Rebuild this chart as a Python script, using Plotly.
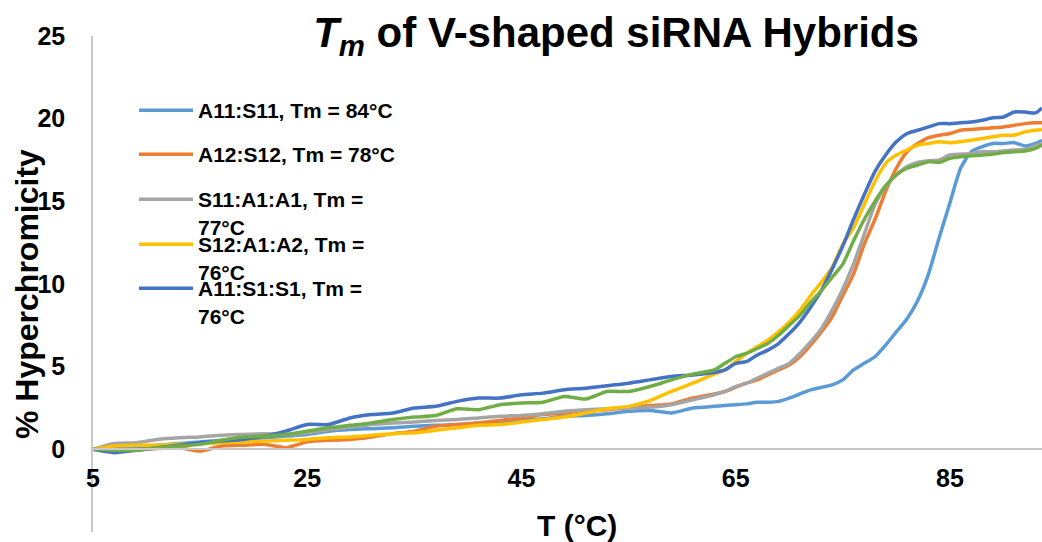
import plotly.graph_objects as go

# Temperature grid (°C)
temps = [5, 7, 9, 11, 13, 15, 17, 19, 21, 23, 25, 27, 29, 31, 33, 35, 37, 39, 41, 43,
         45, 47, 49, 51, 53, 55, 57, 59, 61, 63,
         64, 65, 66, 67, 68, 69, 70, 71, 72, 73, 74, 75, 76, 77, 78, 79, 80, 81, 82, 83,
         84, 85, 86, 87, 88, 89, 90, 91, 92, 93, 93.6]

a11_s11 = [0, 0.05, 0.15, 0.25, 0.35, 0.45, 0.55, 0.6, 0.7, 0.8, 0.9, 1.1, 1.2, 1.25, 1.3, 1.4, 1.45, 1.5, 1.6, 1.65,
           1.75, 1.85, 2.0, 2.05, 2.15, 2.3, 2.35, 2.2, 2.5, 2.6,
           2.65, 2.7, 2.75, 2.85, 2.85, 2.9, 3.1, 3.35, 3.6, 3.75, 3.9, 4.2, 4.8, 5.2, 5.6, 6.3, 7.1, 7.9, 9.0, 10.6,
           12.8, 14.9, 17.0, 18.0, 18.3, 18.5, 18.5, 18.55, 18.35, 18.5, 18.7]

a12_s12 = [0, -0.15, -0.05, 0.05, 0.1, -0.1, 0.2, 0.25, 0.3, 0.1, 0.45, 0.55, 0.6, 0.75, 0.95, 1.1, 1.4, 1.5, 1.6, 1.75,
           1.9, 2.1, 2.2, 2.35, 2.4, 2.55, 2.65, 2.75, 3.1, 3.35,
           3.5, 3.75, 4.0, 4.2, 4.5, 4.8, 5.1, 5.6, 6.3, 7.1, 8.0, 9.3, 10.6, 12.4, 13.9, 15.6, 17.0, 18.0, 18.5, 18.85,
           19.0, 19.1, 19.3, 19.35, 19.4, 19.45, 19.5, 19.6, 19.7, 19.75, 19.75]

s11_a1_a1 = [0, 0.35, 0.4, 0.6, 0.7, 0.75, 0.85, 0.9, 0.95, 0.9, 1.0, 1.2, 1.35, 1.5, 1.6, 1.65, 1.75, 1.8, 1.9, 2.0,
             2.05, 2.15, 2.3, 2.4, 2.45, 2.5, 2.55, 2.7, 3.0, 3.3,
             3.5, 3.8, 4.0, 4.3, 4.6, 4.9, 5.2, 5.8, 6.5, 7.3, 8.4, 9.7, 11.2, 13.0, 14.8, 15.9, 16.6, 17.1, 17.35, 17.45,
             17.5, 17.8, 17.85, 17.9, 18.0, 18.0, 18.05, 18.1, 18.15, 18.35, 18.5]

s12_a1_a2 = [0, 0.2, 0.25, 0.25, 0.3, 0.35, 0.4, 0.45, 0.5, 0.55, 0.6, 0.7, 0.75, 0.85, 0.95, 1.0, 1.15, 1.3, 1.45, 1.5,
             1.65, 1.8, 1.95, 2.2, 2.45, 2.6, 2.95, 3.5, 4.0, 4.55,
             4.8, 5.3, 5.8, 6.2, 6.6, 7.1, 7.7, 8.4, 9.3, 10.1, 11.0, 12.4, 13.4, 14.8, 16.2, 17.3, 17.8, 18.1, 18.4, 18.5,
             18.6, 18.55, 18.6, 18.7, 18.8, 18.9, 19.0, 19.0, 19.2, 19.3, 19.35]

a11_s1_s1 = [0, -0.2, -0.05, 0.1, 0.25, 0.4, 0.5, 0.6, 0.8, 1.1, 1.5, 1.5, 1.9, 2.1, 2.2, 2.5, 2.6, 2.9, 3.1, 3.1,
             3.3, 3.4, 3.6, 3.7, 3.85, 4.0, 4.2, 4.4, 4.5, 4.65,
             4.8, 5.2, 5.3, 5.7, 6.0, 6.4, 7.0, 7.7, 8.6, 9.6, 10.9, 12.3, 13.9, 15.4, 16.8, 17.8, 18.6, 19.1, 19.3, 19.5,
             19.7, 19.7, 19.75, 19.8, 19.9, 20.05, 20.1, 20.4, 20.4, 20.35, 20.65]

unlabeled = [0, -0.05, -0.05, 0.1, 0.2, 0.3, 0.55, 0.75, 0.8, 0.9, 1.1, 1.3, 1.45, 1.6, 1.8, 1.95, 2.05, 2.45, 2.4, 2.7,
             2.8, 2.85, 3.2, 3.05, 3.5, 3.5, 3.8, 4.2, 4.55, 4.8,
             5.2, 5.6, 5.8, 6.1, 6.4, 6.9, 7.5, 8.1, 8.9, 9.6, 10.4, 11.2, 12.6, 13.9, 15.0, 15.95, 16.6, 17.0, 17.2, 17.4,
             17.35, 17.6, 17.7, 17.75, 17.8, 17.85, 17.95, 18.0, 18.05, 18.2, 18.4]

names = ["A11:S11, Tm = 84°C", "A12:S12, Tm = 78°C", "S11:A1:A1, Tm =<br>77°C",
         "S12:A1:A2, Tm =<br>76°C", "A11:S1:S1, Tm =<br>76°C", "Series6"]
series = [a11_s11, a12_s12, s11_a1_a1, s12_a1_a2, a11_s1_s1, unlabeled]
colors = ["#5B9BD5", "#ED7D31", "#A5A5A5", "#FFC000", "#4472C4", "#70AD47"]
legend_ids = ["legend", "legend2", "legend3", "legend4", "legend5", None]

FONT = "Liberation Sans, Arial, sans-serif"

fig = go.Figure()
for nm, ys, c, lg in zip(names, series, colors, legend_ids):
    fig.add_trace(go.Scatter(
        x=temps, y=ys, name=nm, mode="lines",
        line=dict(color=c, width=3.5, shape="spline", smoothing=0.6),
        showlegend=lg is not None,
        legend=lg if lg else "legend",
    ))

# plot area in pixels: left 93, right 1042, top 36, bottom 532
def px_y(p):
    return (532 - p) / 496.0

def px_x(p):
    return (p - 93) / 949.0

leg_common = dict(font=dict(family=FONT, size=21, color="black", weight="bold"),
                  bgcolor="rgba(0,0,0,0)", borderwidth=0, xanchor="left", yanchor="top",
                  valign="top", itemwidth=54, tracegroupgap=0)
leg_rows = [111, 155, 200, 245, 289]
legend_layout = {}
for i, row in enumerate(leg_rows):
    key = "legend" if i == 0 else f"legend{i+1}"
    legend_layout[key] = dict(x=px_x(134), y=px_y(row - 21), **leg_common)

fig.update_layout(
    width=1042, height=542,
    margin=dict(l=93, r=0, t=36, b=10),
    plot_bgcolor="white", paper_bgcolor="white",
    font=dict(family=FONT, color="black"),
    title=dict(text="<b><i>T</i><sub><i>m</i></sub> of V-shaped siRNA Hybrids</b>",
               font=dict(family=FONT, size=42, color="black"),
               x=616 / 1042, xref="container", xanchor="center",
               y=1 - 32 / 542, yref="container", yanchor="middle"),
    xaxis=dict(range=[5, 93.6], tickvals=[5, 25, 45, 65, 85], ticktext=["5", "25", "45", "65", "85"],
               showgrid=False, zeroline=False, showline=True, linecolor="#C9C9C9", linewidth=1.5,
               anchor="free", position=5 / 30, ticks="",
               tickfont=dict(family=FONT, size=25, color="black", weight="bold"),
               ticklabelstandoff=7),
    yaxis=dict(range=[-5, 25], tickvals=[-5, 0, 5, 10, 15, 20, 25],
               showgrid=False, zeroline=False, showline=True, linecolor="#C9C9C9", linewidth=1.5,
               ticks="", tickfont=dict(family=FONT, size=25, color="black", weight="bold"),
               ticklabelstandoff=21),
    annotations=[
        dict(text="<b>T (°C)</b>", xref="paper", yref="paper", x=px_x(577), y=px_y(525),
             xanchor="center", yanchor="middle", showarrow=False,
             font=dict(family=FONT, size=30, color="black")),
        dict(text="<b>% Hyperchromicity</b>", xref="paper", yref="paper", x=px_x(27), y=px_y(294),
             xanchor="center", yanchor="middle", showarrow=False, textangle=-90,
             font=dict(family=FONT, size=32, color="black")),
    ],
    **legend_layout,
)

fig.write_html("out.html")
